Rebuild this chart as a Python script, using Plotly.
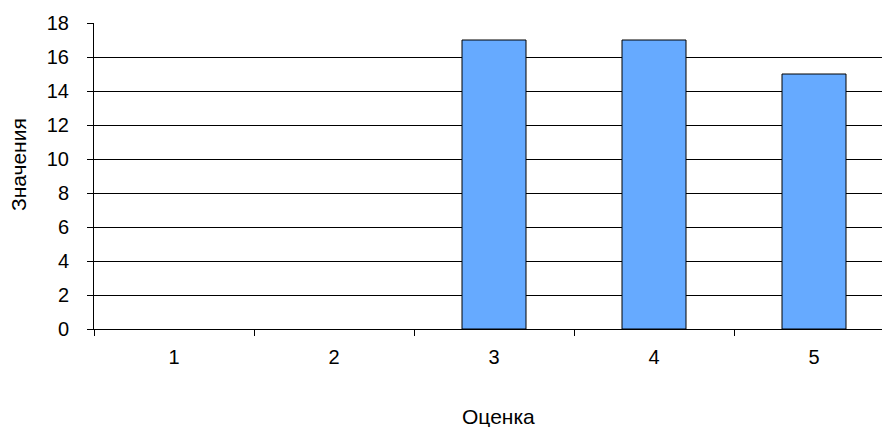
import plotly.graph_objects as go

categories = ["1", "2", "3", "4", "5"]
values = [0, 0, 17, 17, 15]
y_ticks = [0, 2, 4, 6, 8, 10, 12, 14, 16, 18]
x_title = "Оценка"
y_title = "Значения"

W, H = 882, 427
L, T, B = 94, 23, 98
cat_w = 160.0
x_max = -0.5 + (W - L) / cat_w

fig = go.Figure(go.Bar(
    x=categories, y=values,
    marker=dict(color="#66AAFF",
                line=dict(color="#000000", width=[1 if v > 0 else 0 for v in values])),
))

font = dict(family="Liberation Sans, Arial, sans-serif", size=21, color="#000000")
tick_font = dict(family="Liberation Sans, Arial, sans-serif", size=20, color="#000000")

fig.update_layout(
    width=W, height=H,
    margin=dict(l=L, r=0, t=T, b=B, pad=0),
    paper_bgcolor="white", plot_bgcolor="white",
    bargap=0.6,
    showlegend=False,
    font=tick_font,
    annotations=[
        dict(text=x_title, x=498, y=H - 417, xref="paper", yref="paper",
             showarrow=False, font=font, xanchor="center", yanchor="middle"),
        dict(text=y_title, x=18, y=H - 165, xref="paper", yref="paper",
             showarrow=False, font=font, textangle=-90, xanchor="center", yanchor="middle"),
    ],
)
# convert pixel annotation positions to paper coords
pw = W - L
ph = H - T - B
for a in fig.layout.annotations:
    a.x = (a.x - L) / pw
    a.y = (a.y - B) / ph

fig.update_xaxes(
    type="category", range=[-0.5, x_max],
    showgrid=False, showline=True, linecolor="#000000", linewidth=1,
    ticks="outside", tickson="boundaries", ticklen=6, tickcolor="#000000",
    ticklabelstandoff=10, tickfont=tick_font,
    zeroline=False, fixedrange=True,
)
fig.update_yaxes(
    range=[0, 18], tickvals=y_ticks, ticktext=[str(v) for v in y_ticks],
    showgrid=True, gridcolor="#000000", gridwidth=1,
    showline=True, linecolor="#000000", linewidth=1,
    ticks="outside", ticklen=6, tickcolor="#000000",
    ticklabelstandoff=14, tickfont=tick_font,
    zeroline=False, fixedrange=True,
)

fig.write_html("out.html")
